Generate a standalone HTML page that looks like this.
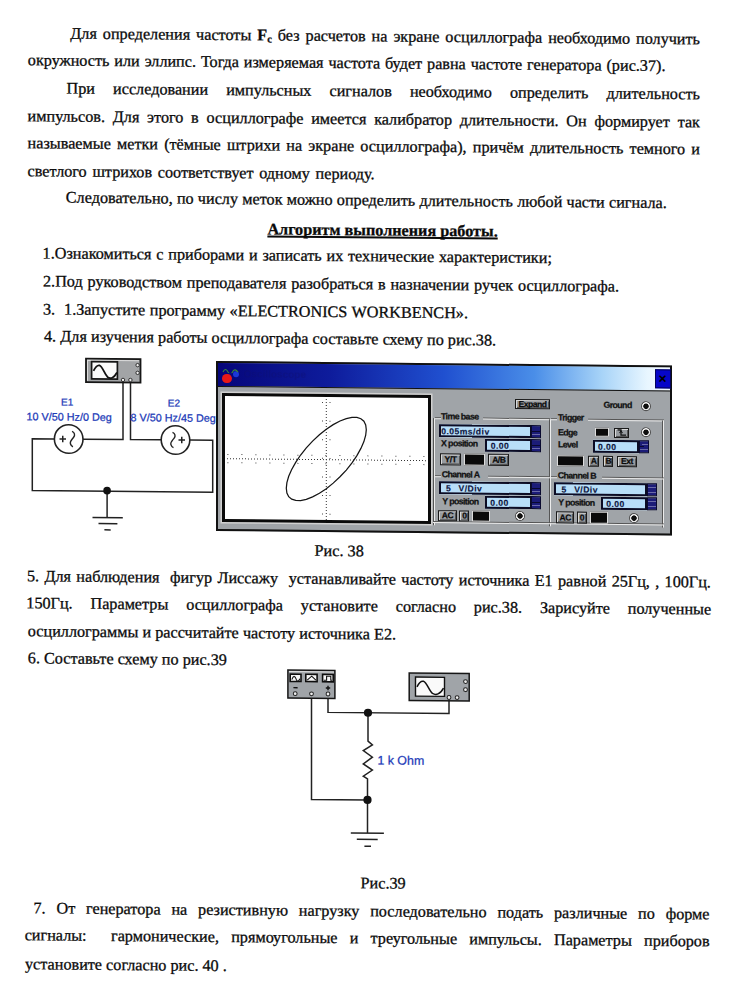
<!DOCTYPE html>
<html><head><meta charset="utf-8">
<style>
html,body{margin:0;padding:0;background:#fff;width:739px;height:1008px;overflow:hidden}
#pg{position:absolute;left:0;top:0;width:739px;height:1008px;transform:skewY(0.52deg);transform-origin:0 0}
.l{position:absolute;white-space:pre;-webkit-text-stroke:0.3px #0a0a0a;font:16.2px/20px "Liberation Serif",serif;color:#0a0a0a;height:20px}
.j{white-space:normal;text-align:justify;text-align-last:justify}
.hd{font-weight:bold;text-decoration:underline;text-decoration-thickness:2px;text-underline-offset:1px;text-decoration-skip-ink:none}
svg{position:absolute;left:0;top:0}
.bl{position:absolute;white-space:pre;font:10.8px/14px "Liberation Sans",sans-serif;color:#1c3ab8;-webkit-text-stroke:0.25px #1c3ab8}
#win{position:absolute;left:216px;top:358.8px;width:456px;height:170px;box-sizing:border-box;border:2px solid #111;background:#a0a4a8;transform:skewY(0.05deg);transform-origin:0 0}
#win div{position:absolute;box-sizing:border-box}
.tb{left:0;top:0;width:452px;height:24px;background:linear-gradient(90deg,#06067a 0%,#0e1c9c 25%,#2050d0 50%,#4a8ee8 70%,#a8d4f8 85%,#e8f6ff 95%,#f4fbff 100%);border-bottom:1.5px solid #111}
.t{font:bold 8.8px/11px "Liberation Sans",sans-serif;color:#111;white-space:pre;letter-spacing:-0.6px;-webkit-text-stroke:0.25px #111}
.fld{background:#b8def8;box-shadow:inset 0 0 0 2px #0c0c24;font:bold 8.6px/14.4px "Liberation Sans",sans-serif;color:#0c1440;-webkit-text-stroke:0.15px #0c1440;letter-spacing:0.45px;word-spacing:4.5px;padding-left:2.5px;white-space:pre}
.sp{background:linear-gradient(#1c1c78 0,#1c1c78 22%,#6a6aa8 22%,#6a6aa8 30%,#1c1c78 30%,#1c1c78 48%,#0a0a30 48%,#0a0a30 54%,#1c1c78 54%,#1c1c78 72%,#6a6aa8 72%,#6a6aa8 80%,#1c1c78 80%);border:1px solid #0a0a30}
.btn{background:#979b9f;border:1px solid #1a1a1a;box-shadow:inset 1px 1px 0 #d8d8d8,inset -1px -1px 0 #555;font:bold 8.6px/8px "Liberation Sans",sans-serif;color:#0a0a0a;-webkit-text-stroke:0.2px #0a0a0a;text-align:center;letter-spacing:-0.5px;white-space:pre;display:flex;align-items:center;justify-content:center}
.blk{background:#0a0a0a;border:1px solid #ddd}
.rad{width:10px;height:10px;border-radius:50%;background:radial-gradient(circle closest-side,#0e0e0e 0,#0e0e0e 2.4px,#e8e8e8 3px,#e8e8e8 3.8px,#505050 4.3px,#505050 5px)}
.gl{border-top:1px solid #555;border-bottom:1px solid #ececec;height:2px}
.gv{border-left:1px solid #555;border-right:1px solid #ececec;width:2px}
</style></head><body>
<div id="pg">
<!-- text -->
<div class="l j" style="left:70.3px;top:22.9px;width:629.7px">Для определения частоты <b>F<sub style="font-size:10.5px;vertical-align:-2px;line-height:0">c</sub></b> без расчетов на экране осциллографа необходимо получить</div>
<div class="l j" style="left:27.8px;top:50.4px;width:637.7px">окружность или эллипс. Тогда измеряемая частота будет равна частоте генератора (рис.37).</div>
<div class="l j" style="left:66.5px;top:78.2px;width:633.5px">При исследовании импульсных сигналов необходимо определить длительность</div>
<div class="l j" style="left:27.6px;top:105.6px;width:672.4px">импульсов. Для этого в осциллографе имеется калибратор длительности. Он формирует так</div>
<div class="l j" style="left:27.6px;top:132.7px;width:672.4px">называемые метки (тёмные штрихи на экране осциллографа), причём длительность темного и</div>
<div class="l j" style="left:27.6px;top:160.5px;width:347px">светлого штрихов соответствует одному периоду.</div>
<div class="l j" style="left:65.8px;top:187.3px;width:601px">Следовательно, по числу меток можно определить длительность любой части сигнала.</div>
<div class="l hd" style="left:267.4px;top:216.6px">Алгоритм выполнения работы.</div>
<div class="l j" style="left:42.6px;top:243.2px;width:509.3px">1.Ознакомиться с приборами и записать их технические характеристики;</div>
<div class="l j" style="left:43px;top:270.6px;width:576px">2.Под руководством преподавателя разобраться в назначении ручек осциллографа.</div>
<div class="l j" style="left:43px;top:298.6px;width:425px">3. &nbsp;1.Запустите программу «ELECTRONICS WORKBENCH».</div>
<div class="l j" style="left:44px;top:326.1px;width:452.1px">4. Для изучения работы осциллографа составьте схему по рис.38.</div>
<div class="l" style="left:314.6px;top:538.1px">Рис. 38</div>
<div class="l j" style="left:27px;top:566px;width:683.9px;white-space:pre-wrap">5. Для наблюдения  фигур Лиссажу  устанавливайте частоту источника E1 равной 25Гц, , 100Гц.</div>
<div class="l j" style="left:26.3px;top:593.4px;width:684.9px">150Гц. Параметры осциллографа установите согласно рис.38. Зарисуйте полученные</div>
<div class="l j" style="left:27.8px;top:620.8px;width:368.3px">осциллограммы и рассчитайте частоту источника E2.</div>
<div class="l" style="left:27.8px;top:647.9px">6. Составьте схему по рис.39</div>
<div class="l" style="left:360.6px;top:869.6px">Рис.39</div>
<div class="l j" style="left:33.5px;top:897.8px;width:676px">7. От генератора на резистивную нагрузку последовательно подать различные по форме</div>
<div class="l j" style="left:24.7px;top:925.4px;width:684.9px;white-space:pre-wrap">сигналы:  гармонические, прямоугольные и треугольные импульсы. Параметры приборов</div>
<div class="l" style="left:25px;top:953.8px">установите согласно рис. 40 .</div>

<!-- circuits -->
<svg width="739" height="1008" viewBox="0 0 739 1008">
<g fill="none" stroke="#222" stroke-width="1.5">
<!-- fig38 left circuit wires -->
<polyline points="123,381 123,438.4 83,438.4"/>
<polyline points="130.5,381 130.5,438.4 161,438.4"/>
<polyline points="54.4,438.4 32.3,438.4 32.3,490.3 212.7,490.3 212.7,438.4 190,438.4"/>
<polyline points="107.1,489.7 107.1,516.7"/>
<line x1="92.5" y1="516.7" x2="122.8" y2="516.7"/>
<line x1="98.5" y1="522.7" x2="117.4" y2="522.7"/>
<line x1="104.4" y1="528.9" x2="110.7" y2="528.9"/>
<circle cx="68.7" cy="438.4" r="14.3" stroke-width="1.6"/>
<circle cx="175.5" cy="438.4" r="14.3" stroke-width="1.6"/>
<path d="M59.5,438.4 h6.5 M62.75,435.2 v6.5" stroke-width="1.5"/>
<path d="M72,430.8 c2.5,1 3.5,3.5 1.5,6 c-2,2.5 -4,4 -3,6.5 c0.5,1.5 1.5,2.5 2.5,2.8" stroke-width="1.4"/>
<path d="M185,438.4 h-6.5 M181.75,435.2 v6.5" stroke-width="1.5"/>
<path d="M172.5,430.8 c2.5,1 3.5,3.5 1.5,6 c-2,2.5 -4,4 -3,6.5 c0.5,1.5 1.5,2.5 2.5,2.8" stroke-width="1.4"/>
</g>
<circle cx="107.1" cy="489.7" r="3.8" fill="#111"/>
<!-- scope icon fig38 -->
<rect x="86" y="357.8" width="54.5" height="23.5" fill="#a2a4a6" stroke="#161616" stroke-width="1.8"/>
<path d="M87.5,380 V359.5 H139" fill="none" stroke="#dcdcdc" stroke-width="1"/>
<rect x="91.6" y="360.8" width="25.8" height="17.3" fill="#fafafa" stroke="#161616" stroke-width="1.7"/>
<path d="M93.5,370 C95.5,366 97.5,364 99.5,364.5 C102.5,365.5 104.5,373 107.5,376 C110.5,378.5 114,377 117,371.5" fill="none" stroke="#111" stroke-width="1.8"/>
<g fill="#eee" stroke="#222" stroke-width="0.9">
<circle cx="137.6" cy="363.9" r="1.7"/><circle cx="137.6" cy="371.6" r="1.7"/>
<circle cx="123" cy="378.8" r="1.7"/><circle cx="130.4" cy="378.8" r="1.7"/>
</g>

<!-- fig39 -->
<g fill="none" stroke="#222" stroke-width="1.5">
<polyline points="328,692 328,709.4 449,709.4 449,694"/>
<polyline points="311.5,692 311.5,796.6 367.5,796.6"/>
<polyline points="368,709.4 368,737.8 372.4,741.5 363.3,747.3 372.4,753.8 363.3,760.6 372.4,766.7 363.3,772.9 367.5,775.5 367.5,829.7"/>
<line x1="350.8" y1="829.7" x2="383.9" y2="829.7"/>
<line x1="356.8" y1="836" x2="377.7" y2="836"/>
<line x1="364.4" y1="843" x2="371" y2="843"/>
</g>
<circle cx="368" cy="709.4" r="4.1" fill="#111"/>
<circle cx="367.5" cy="796.6" r="4.1" fill="#111"/>
<!-- generator -->
<rect x="287.9" y="667.4" width="47" height="28" fill="#a0a4a8" stroke="#161616" stroke-width="1.5"/>
<line x1="289" y1="669" x2="334" y2="669" stroke="#e0e0e0" stroke-width="1"/>
<g fill="#f6f6f6" stroke="#0e0e0e" stroke-width="1.6">
<rect x="290.2" y="671.5" width="10.8" height="7.3"/>
<rect x="305.8" y="671.5" width="11.3" height="7.3"/>
<rect x="322.6" y="671.5" width="10.6" height="7.3"/>
</g>
<g fill="none" stroke="#111" stroke-width="1.1">
<path d="M291.8,677 q2.3,-6.5 4.6,0 q1.6,3.5 3.4,-1"/>
<path d="M307.2,677.3 l4.5,-4 l4.2,4"/>
<path d="M323.8,677.3 h2.8 v-4 h4.2 v4 h1.2"/>
</g>
<line x1="293.4" y1="685" x2="297.6" y2="685" stroke="#111" stroke-width="1.4"/>
<path d="M325.8,685 h4.4 M328,682.8 v4.4" stroke="#111" stroke-width="1.4"/>
<g fill="#eee" stroke="#222" stroke-width="1">
<circle cx="295.2" cy="691" r="1.9"/><circle cx="311.5" cy="691" r="1.9"/><circle cx="328" cy="691" r="1.9"/>
</g>
<!-- scope2 -->
<rect x="409.2" y="669.3" width="60" height="27.4" fill="#a0a4a8" stroke="#161616" stroke-width="1.5"/>
<rect x="415.5" y="673.3" width="29" height="19" fill="#fafafa" stroke="#111" stroke-width="1.4"/>
<path d="M417,683 C419,679 421.5,677 423.5,677.5 C427,678.5 429,687 432.5,689.5 C436,691.5 440,690.5 443.5,684" fill="none" stroke="#111" stroke-width="1.5"/>
<g fill="#eee" stroke="#222" stroke-width="1">
<circle cx="465.5" cy="677.4" r="1.9"/><circle cx="465.5" cy="685.5" r="1.9"/>
<circle cx="449" cy="693.4" r="1.9"/><circle cx="457.1" cy="693.4" r="1.9"/>
</g>
</svg>
<div class="bl" style="left:61px;top:394.9px;font-size:10px">E1</div>
<div class="bl" style="left:26.6px;top:408.7px">10 V/50 Hz/0 Deg</div>
<div class="bl" style="left:167.8px;top:394.9px;font-size:10px">E2</div>
<div class="bl" style="left:130.6px;top:408.6px">8 V/50 Hz/45 Deg</div>
<div class="bl" style="left:377.4px;top:749.3px;font-size:12.4px;line-height:16px">1 k Ohm</div>

<!-- oscilloscope window -->
<div id="win">
 <div class="tb"></div>
 <div style="left:437px;top:2px;width:15.5px;height:18.5px;background:#0606c8;border:1px solid #04045a"></div>
 <div style="left:438px;top:5px;width:13px;height:12px;font:bold 14px/12px 'Liberation Sans';color:#000;text-align:center">×</div>
 <div style="left:14.5px;top:7.5px;width:6px;height:6px;border-radius:50%;background:#1a38d8"></div>
 <div style="left:4.2px;top:10.8px;width:9.4px;height:9.4px;border-radius:50%;background:#e81818"></div>
 <svg style="position:absolute;left:4px;top:4px" width="18" height="6"><path d="M1,5 q2.5,-5 5,0 q2.5,4 5,-1 q2,-3 5,1" fill="none" stroke="#3a8a3a" stroke-width="1.1"/></svg>
 <div style="left:26px;top:5px;width:90px;height:12px;font:bold 10px/12px 'Liberation Sans';color:#101070;opacity:.35">Oscilloscope</div>
 <!-- screen -->
 <div style="left:4.2px;top:30px;width:208.8px;height:128.8px;background:#fff;border:3px solid #0a0a0a;box-shadow:0 0 0 1.5px #d0d0d0"></div>
 <div style="left:-2px;top:-3px;width:456px;height:170px">
 <!-- group boxes -->
 <div class="gl" style="left:219px;top:54.5px;width:6px"></div>
 <div class="gl" style="left:267px;top:54.5px;width:67px"></div>
 <div class="gv" style="left:217px;top:56px;height:107px"></div>
 <div class="gv" style="left:332.5px;top:56px;height:107px"></div>
 <div class="gl" style="left:219px;top:112.5px;width:6px"></div>
 <div class="gl" style="left:272px;top:112.5px;width:62px"></div>
 <div class="gl" style="left:335px;top:54.5px;width:6px"></div>
 <div class="gl" style="left:372px;top:55.0px;width:76px"></div>
 <div class="gv" style="left:446px;top:56px;height:107px"></div>
 <div class="gl" style="left:335px;top:113.0px;width:6px"></div>
 <div class="gl" style="left:386px;top:113.0px;width:62px"></div>
 <div class="gl" style="left:217px;top:159.0px;width:231px"></div>
 <!-- buttons / labels left -->
 <div class="btn" style="left:298.7px;top:35.5px;width:35.5px;height:10.5px">Expand</div>
 <div class="t" style="left:387.5px;top:36px">Ground</div>
 <div class="rad" style="left:424.5px;top:37px"></div>
 <div class="t" style="left:225px;top:48.5px">Time base</div>
 <div class="fld" style="left:222.7px;top:61.6px;width:93px;height:13.2px">0.05ms/div</div>
 <div class="sp" style="left:315.4px;top:61.6px;width:9.3px;height:13.2px"></div>
 <div class="t" style="left:225px;top:75.8px">X position</div>
 <div class="fld" style="left:269.2px;top:75.6px;width:46.5px;height:13.2px;padding-left:5.5px">0.00</div>
 <div class="sp" style="left:315.4px;top:75.6px;width:9.3px;height:13.2px"></div>
 <div class="btn" style="left:224px;top:91.2px;width:21px;height:11.4px">Y/T</div>
 <div class="blk" style="left:247.7px;top:91.2px;width:21px;height:11.4px"></div>
 <div class="btn" style="left:272.3px;top:91.2px;width:21px;height:11.4px">A/B</div>
 <div class="t" style="left:225.7px;top:106.5px">Channel A</div>
 <div class="fld" style="left:222.5px;top:118.6px;width:93px;height:13.2px;padding-left:7.5px">5 V/Div</div>
 <div class="sp" style="left:315.4px;top:118.6px;width:9.3px;height:13.2px"></div>
 <div class="t" style="left:226.2px;top:133.8px">Y position</div>
 <div class="fld" style="left:268.8px;top:133.1px;width:46.8px;height:13.2px;padding-left:5.5px">0.00</div>
 <div class="sp" style="left:315.4px;top:133.1px;width:9.3px;height:13.2px"></div>
 <div class="btn" style="left:222.2px;top:147.5px;width:18.5px;height:11.7px">AC</div>
 <div class="btn" style="left:243.3px;top:147.5px;width:10px;height:11.7px">0</div>
 <div class="blk" style="left:255.6px;top:147.5px;width:18px;height:11.7px"></div>
 <div class="rad" style="left:299px;top:148.4px"></div>
 <!-- right -->
 <div class="t" style="left:342px;top:48.8px">Trigger</div>
 <div class="t" style="left:342px;top:63.8px">Edge</div>
 <div class="blk" style="left:379.2px;top:64.3px;width:14px;height:8.3px"></div>
 <div class="btn" style="left:398.4px;top:63.5px;width:14.6px;height:10px"><svg width="10" height="7" style="position:static;display:block"><path d="M0.5,1 H4 V6 H9" fill="none" stroke="#111" stroke-width="1.3"/><path d="M2.5,4 L4,2 L5.5,4" fill="none" stroke="#111" stroke-width="1"/></svg></div>
 <div class="rad" style="left:424.5px;top:63.2px"></div>
 <div class="t" style="left:342px;top:76.2px">Level</div>
 <div class="fld" style="left:376.5px;top:75.8px;width:46.6px;height:13.2px;padding-left:5.5px">0.00</div>
 <div class="sp" style="left:423.1px;top:75.8px;width:9.7px;height:13.2px"></div>
 <div class="blk" style="left:340.9px;top:91.6px;width:26.8px;height:11.3px"></div>
 <div class="btn" style="left:371.9px;top:91.6px;width:11.5px;height:11.3px">A</div>
 <div class="btn" style="left:387.1px;top:91.6px;width:10.4px;height:11.3px">B</div>
 <div class="btn" style="left:400.6px;top:91.6px;width:20.7px;height:11.3px">Ext</div>
 <div class="t" style="left:341.8px;top:107px">Channel B</div>
 <div class="fld" style="left:338.1px;top:118.9px;width:93.2px;height:13.2px;padding-left:7.5px">5 V/Div</div>
 <div class="sp" style="left:431.3px;top:118.9px;width:9.5px;height:13.2px"></div>
 <div class="t" style="left:342.2px;top:134.4px">Y position</div>
 <div class="fld" style="left:384.7px;top:133.3px;width:46.6px;height:13.2px;padding-left:5.5px">0.00</div>
 <div class="sp" style="left:431.3px;top:133.3px;width:9.5px;height:13.2px"></div>
 <div class="btn" style="left:340.3px;top:148.3px;width:17.9px;height:11.9px">AC</div>
 <div class="btn" style="left:361px;top:148.3px;width:10px;height:11.9px">0</div>
 <div class="blk" style="left:373.8px;top:148.3px;width:18.2px;height:11.9px"></div>
 <div class="rad" style="left:413px;top:149.4px"></div>
 </div>
 <!-- screen svg -->
 <svg width="452" height="166" style="left:-2px;top:-2px;position:absolute">
  <g stroke="#333" stroke-width="1" stroke-dasharray="1 2">
   <line x1="11" y1="97.6" x2="212" y2="97.6"/>
   <line x1="110.3" y1="37" x2="110.3" y2="158"/>
  </g>
  <g stroke="#444" stroke-width="1" stroke-dasharray="1 13">
   <line x1="11.4" y1="93.4" x2="212" y2="93.4"/>
   <line x1="11.4" y1="101.6" x2="212" y2="101.6"/>
  </g>
  <g stroke="#444" stroke-width="1" stroke-dasharray="1 17.6">
   <line x1="106.5" y1="40" x2="106.5" y2="158"/>
   <line x1="114" y1="40" x2="114" y2="158"/>
  </g>
  <polyline fill="none" stroke="#151515" stroke-width="1.25" points="110.3,67.2 117.2,62.5 124.0,58.8 130.3,56.3 136.0,55.1 140.9,55.1 144.9,56.3 147.9,58.8 149.7,62.5 150.3,67.2 149.7,72.8 147.9,79.2 144.9,86.0 140.9,93.2 136.0,100.6 130.3,107.8 124.0,114.6 117.2,121.0 110.3,126.6 103.4,131.3 96.6,135.0 90.3,137.5 84.6,138.7 79.7,138.7 75.7,137.5 72.7,135.0 70.9,131.3 70.3,126.6 70.9,121.0 72.7,114.6 75.7,107.8 79.7,100.6 84.6,93.2 90.3,86.0 96.6,79.2 103.4,72.8 110.3,67.2"/>
 </svg>
</div>
</div>
</body></html>
